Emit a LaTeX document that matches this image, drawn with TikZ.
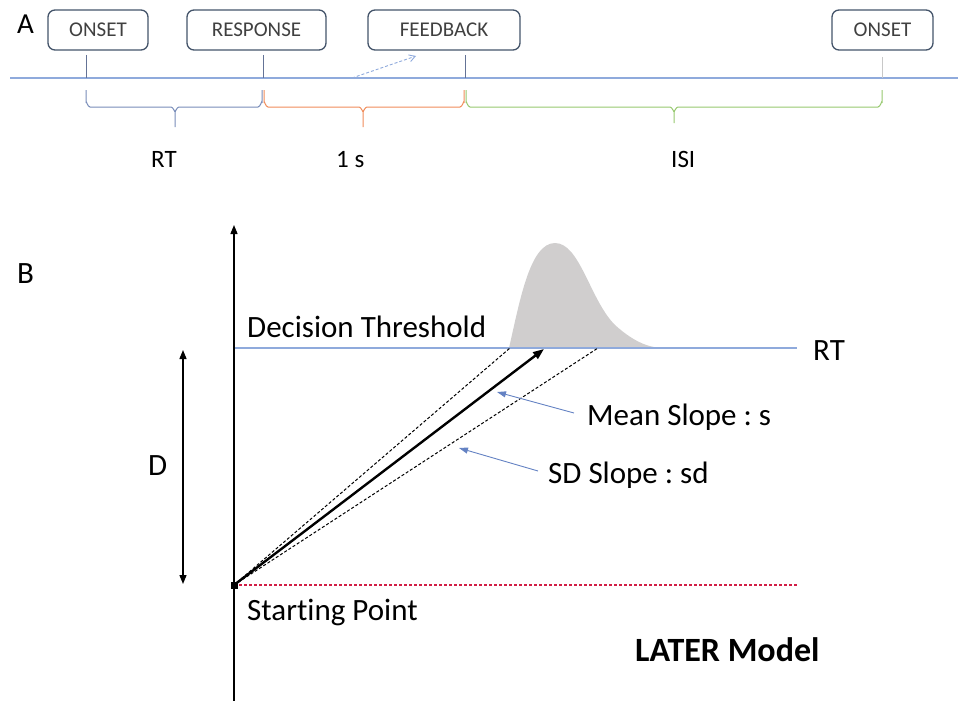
\documentclass[tikz,border=0pt]{standalone}
\usepackage{fontspec}
\setmainfont{Carlito}[Ligatures=NoCommon]
\usetikzlibrary{arrows.meta}
\frenchspacing
\definecolor{boxline}{RGB}{68,84,106}
\definecolor{tline}{RGB}{143,170,220}
\definecolor{tickc}{RGB}{100,115,150}
\definecolor{tickl}{RGB}{200,200,200}
\definecolor{rtc}{RGB}{120,140,185}
\definecolor{onec}{RGB}{240,140,90}
\definecolor{isic}{RGB}{150,200,110}
\definecolor{distc}{RGB}{208,206,206}
\definecolor{ptrc}{RGB}{100,130,195}
\definecolor{redc}{RGB}{210,30,70}
\definecolor{txtg}{RGB}{64,64,64}
\newcommand\officebrace[5]{%
  \draw[#1, line width=1pt] (#2,90) -- (#2,102) to[out=90,in=180] (#2+4,107) -- (#4-4,107)
    to[out=0,in=-90] (#4,111) -- (#4,#5);
  \draw[#1, line width=1pt] (#4,111) to[out=-90,in=180] (#4+4,107) -- (#3-4,107)
    to[out=0,in=90] (#3,102) -- (#3,90);}
\tikzset{
  evbox/.style={draw=boxline, line width=1.3pt, rounded corners=7pt, minimum height=40pt,
    inner sep=0pt, font=\fontsize{21}{25}\selectfont, text=txtg},
  bigtxt/.style={font=\fontsize{31}{37}\selectfont, inner sep=0pt, anchor=base west},
  midtxt/.style={font=\fontsize{25}{30}\selectfont, inner sep=0pt, anchor=base west},
  axisarrow/.style={line width=1.3pt, -{Triangle[length=9pt,width=7pt]}},
  ptr/.style={ptrc, line width=0.9pt, -{Triangle[length=9pt,width=6pt]}},
  slopedash/.style={black, line width=1pt, dash pattern=on 3pt off 2pt}
}
\begin{document}
\begin{tikzpicture}[x=1pt,y=-1pt]
\useasboundingbox (0,0) rectangle (958,701);
% ---------- Part A ----------
\node[font=\fontsize{29}{34}\selectfont, inner sep=0pt, anchor=base west] (lblA) at (17,34) {A};
\node[evbox, minimum width=100pt] (on1) at (98,30) {ONSET};
\node[evbox, minimum width=139pt] (resp) at (256.5,30) {RESPONSE};
\node[evbox, minimum width=152pt] (fb) at (444,30) {FEEDBACK};
\node[evbox, minimum width=101pt] (on2) at (882.5,30) {ONSET};
\coordinate (tlL) at (10,78);
\coordinate (tlR) at (958,78);
\draw[tline, line width=1.2pt] (tlL) -- (tlR);
\foreach \x/\n in {86/1,263/2,465/3} {
  \coordinate (tt\n) at (\x,55);
  \coordinate (tb\n) at (\x,78);
  \draw[tickc, line width=1pt] (tt\n) -- (tb\n);
}
\coordinate (tt4) at (882,57);
\coordinate (tb4) at (882,78);
\draw[tickl, line width=1pt] (tt4) -- (tb4);
\coordinate (fa1) at (352,78);
\coordinate (fa2) at (416,56);
\draw[tline, line width=0.9pt, dash pattern=on 3pt off 2pt, -{Straight Barb[length=6pt,width=7pt]}] (fa1) -- (fa2);
\officebrace{rtc}{86}{262}{175}{127}
\officebrace{onec}{264}{464}{363}{127}
\officebrace{isic}{466}{882}{674}{123}
\node[midtxt] (lRT) at (151,167) {RT};
\node[midtxt] (l1s) at (336,167) {1 s};
\node[midtxt] (lISI) at (671,167) {ISI};
% ---------- Part B ----------
\node[bigtxt] (lblB) at (17,283) {B};
\fill[distc] (509,348) .. controls (520,300) and (530,243) .. (555,243)
  .. controls (580,243) and (590,300) .. (615,325)
  .. controls (635,343) and (650,348) .. (665,348) -- cycle;
\coordinate (thL) at (234,348);
\coordinate (thR) at (797,348);
\draw[tline, line width=1.3pt] (thL) -- (thR);
\coordinate (axB) at (234,701);
\coordinate (axT) at (234,225);
\draw[axisarrow] (axB) -- (axT);
\coordinate (dT) at (183,350);
\coordinate (dB) at (183,584);
\draw[line width=1.3pt, {Triangle[length=9pt,width=7pt]}-{Triangle[length=9pt,width=7pt]}] (dB) -- (dT);
\coordinate (sp) at (234,585);
\coordinate (redR) at (797,585);
\draw[redc, line width=1.1pt, dash pattern=on 3pt off 2pt] (sp) -- (redR);
\coordinate (upE) at (510,348);
\coordinate (loE) at (598,348);
\coordinate (meanE) at (544,349);
\draw[slopedash] (sp) -- (upE);
\draw[slopedash] (sp) -- (loE);
\draw[line width=2.4pt, -{Triangle[length=11pt,width=8pt]}] (sp) -- (meanE);
\node[fill=black, minimum size=7pt, inner sep=0pt] (spn) at (sp) {};
\coordinate (mpS) at (574,413);
\coordinate (mpE) at (497,392);
\draw[ptr] (mpS) -- (mpE);
\coordinate (spS) at (538,471);
\coordinate (spE) at (459,448);
\draw[ptr] (spS) -- (spE);
\node[bigtxt] (lDT) at (247,337) {Decision Threshold};
\node[bigtxt] (lRT2) at (813,360) {RT};
\node[bigtxt] (lMean) at (587,425) {Mean Slope : s};
\node[bigtxt] (lSD) at (548,483) {SD Slope : sd};
\node[bigtxt] (lD) at (148,475) {D};
\node[bigtxt] (lSP) at (247,620) {Starting Point};
\node[font=\fontsize{34}{40}\selectfont\bfseries, inner sep=0pt, anchor=base west] (lLater) at (635,661) {LATER Model};
\end{tikzpicture}
\end{document}
